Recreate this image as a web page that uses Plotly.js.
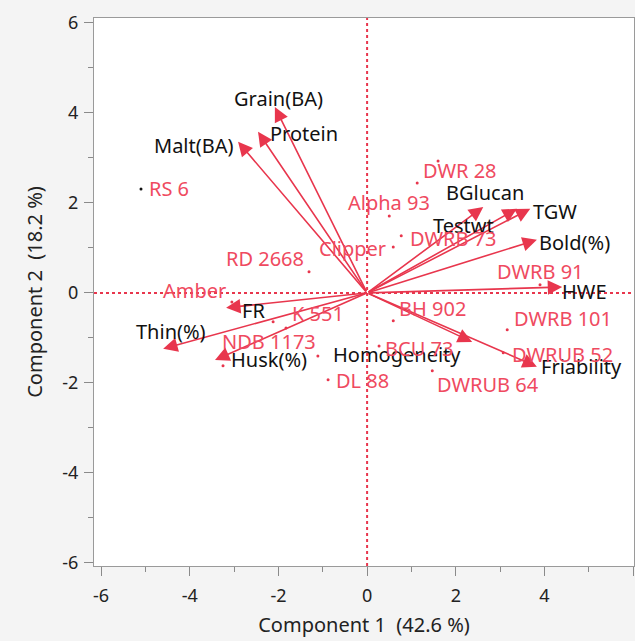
<!DOCTYPE html>
<html>
<head>
<meta charset="utf-8">
<script src="https://cdn.plot.ly/plotly-3.0.1.min.js"></script>
<style>html,body{margin:0;padding:0;background:#f4f4f4;}</style>
</head>
<body>
<div id="chart" style="width:635px;height:641px;"></div>
<script>
// Sample scores (Component 1, Component 2)
const sampleNames = ['RS 6','RD 2668','Amber','K 551','','NDB 1173','','DL 88','BCU 73','BH 902','Clipper','Alpha 93','DWRB 73','DWR 28','','DWRB 91','DWRB 101','DWRUB 52','DWRUB 64'];
const sampleX = [-5.10,-1.31,-3.05,-1.83,-2.12,-3.25,-1.11,-0.88,0.27,0.59,0.59,0.50,0.77,1.13,1.60,3.90,3.16,3.07,1.47];
const sampleY = [2.31,0.47,-0.20,-0.78,-0.64,-1.62,-1.40,-1.93,-1.18,-0.62,1.02,1.71,1.27,2.44,2.93,0.18,-0.82,-1.33,-1.73];

// Variable loadings (arrow tips)
const varNames = ['Grain(BA)','Protein','Malt(BA)','BGlucan','Testwt','TGW','Bold(%)','HWE','Homogeneity','Friability','FR','Thin(%)','Husk(%)'];
const varX = [-2.08,-2.46,-2.91,2.62,3.38,3.68,3.83,4.40,2.37,3.83,-3.18,-4.60,-3.43];
const varY = [4.13,3.58,3.36,1.91,1.87,1.87,1.18,0.13,-1.09,-1.64,-0.33,-1.24,-1.49];

// Axis ticks
const tickVals = [-6,-4,-2,0,2,4,6];
const tickText = ['-6','-4','-2','0','2','4','6'];
const minorVals = [-5,-3,-1,1,3,5];

// label placement (style only): [xanchor, xshift, yshift]
const sampleLabelPos = [
  ['left',6,0],['right',-3,13],['right',-4,11],['left',4,14],['left',0,0],['left',-3,24],['left',0,0],
  ['left',6,-1],['left',4,-3],['left',4,12],['right',-5,-1],['center',0,13],['left',7,-3],['left',4,13],
  ['left',0,0],['center',0,13],['left',5,11],['left',7,-2],['left',3,-14]
];
const varLabelPos = [
  ['center',4,9],['left',10,-2],['right',-2,-4],['center',2,14],['right',-21,-17],['left',1,-3],
  ['left',0,-3],['left',-2,-4],['right',-9,-13],['left',2,0],['left',14,-3],['center',8,17],['left',14,0]
];

const RED = '#e8364d';
const LABEL_RED = '#ef4a60';
const FONT = 'Noto Sans, Open Sans, sans-serif';
const LBL = 20;

const annotations = [];
varNames.forEach((n, i) => {
  annotations.push({
    x: varX[i], y: varY[i], xref: 'x', yref: 'y',
    ax: 0, ay: 0, axref: 'x', ayref: 'y',
    text: '', showarrow: true, arrowhead: 2, arrowsize: 1.8, arrowwidth: 1.6,
    arrowcolor: RED, standoff: 0
  });
});
varNames.forEach((n, i) => {
  const p = varLabelPos[i];
  annotations.push({
    x: varX[i], y: varY[i], xref: 'x', yref: 'y', text: n, showarrow: false,
    xanchor: p[0], yanchor: 'middle', xshift: p[1], yshift: p[2],
    font: {family: FONT, size: LBL, color: '#111111'}
  });
});
sampleNames.forEach((n, i) => {
  if (!n) return;
  const p = sampleLabelPos[i];
  annotations.push({
    x: sampleX[i], y: sampleY[i], xref: 'x', yref: 'y', text: n, showarrow: false,
    xanchor: p[0], yanchor: 'middle', xshift: p[1], yshift: p[2],
    font: {family: FONT, size: LBL, color: LABEL_RED}
  });
});

const traces = [{
  type: 'scatter', mode: 'markers', x: sampleX, y: sampleY,
  marker: {size: 3, color: sampleNames.map((n, i) => i === 0 ? '#111111' : RED)},
  hoverinfo: 'text', text: sampleNames
}];

const axisCommon = {
  tickvals: tickVals, ticktext: tickText, ticks: 'outside', ticklen: 9, tickwidth: 1,
  tickcolor: '#8a8a8a', showline: true, linecolor: '#9a9a9a', linewidth: 1, mirror: true,
  showgrid: false, zeroline: false, tickfont: {family: FONT, size: 18, color: '#222222'},
  minor: {tickvals: minorVals, ticks: 'outside', ticklen: 5, tickcolor: '#8a8a8a', showgrid: false},
  fixedrange: true
};

const layout = {
  width: 635, height: 641,
  margin: {l: 94, r: 1, t: 18, b: 75},
  paper_bgcolor: '#f4f4f4', plot_bgcolor: '#ffffff',
  showlegend: false,
  xaxis: Object.assign({}, axisCommon, {
    range: [-6.16, 6.02], ticklabelstandoff: 4,
    title: {text: 'Component 1\u00a0\u00a0(42.6\u00a0%)', font: {family: FONT, size: 20, color: '#222222'}, standoff: 12}
  }),
  yaxis: Object.assign({}, axisCommon, {
    range: [-6.07, 6.11], ticklabelstandoff: 2,
    title: {text: 'Component 2\u00a0\u00a0(18.2\u00a0%)', font: {family: FONT, size: 20, color: '#222222'}, standoff: 14}
  }),
  shapes: [
    {type: 'line', xref: 'x', yref: 'paper', x0: 0, x1: 0, y0: 0, y1: 1, line: {color: RED, width: 2, dash: 'dot'}},
    {type: 'line', xref: 'paper', yref: 'y', x0: 0, x1: 1, y0: 0, y1: 0, line: {color: RED, width: 2, dash: 'dot'}}
  ],
  annotations: annotations
};

Plotly.newPlot('chart', traces, layout, {displayModeBar: false, staticPlot: true});
</script>
</body>
</html>
